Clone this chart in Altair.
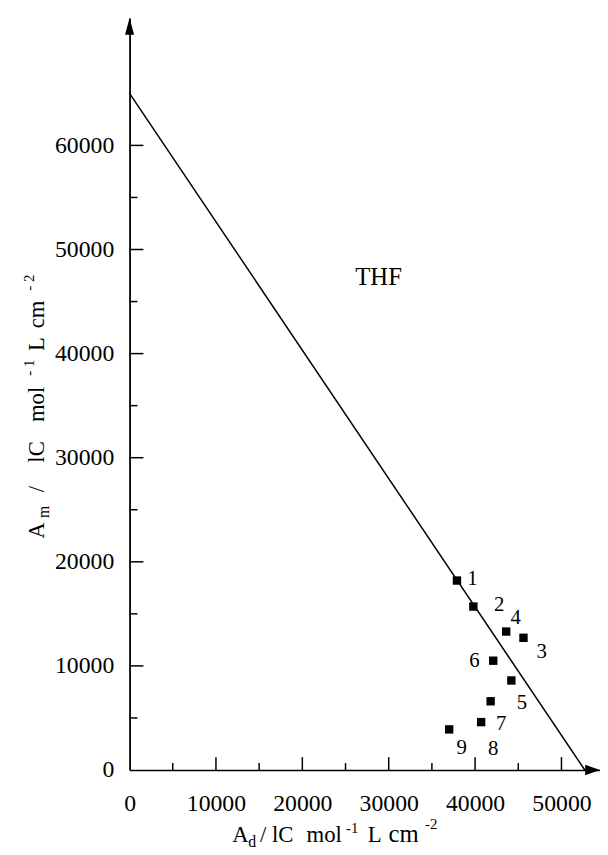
import altair as alt
import pandas as pd

# ---------------- data ----------------
point_id = ["1", "2", "3", "4", "5", "6", "7", "8", "9"]
a_d = [37900, 39800, 45600, 43600, 44200, 42100, 40700, 41800, 37000]
a_m = [18200, 15700, 12700, 13300, 8600, 10500, 4600, 6600, 3900]

label_text = ["1", "2", "3", "4", "5", "6", "7", "8", "9"]
label_x = [39700, 42790, 47700, 44700, 45420, 39930, 43010, 42100, 38440]
label_y = [18330, 15860, 11300, 14560, 6460, 10450, 4370, 1990, 2090]

line_x = [0, 52700]
line_y = [65000, 0]

x_tick_labels = [0, 10000, 20000, 30000, 40000, 50000]
y_tick_labels = [0, 10000, 20000, 30000, 40000, 50000, 60000]
x_major = [10000, 20000, 30000, 40000, 50000]
x_minor = [5000, 15000, 25000, 35000, 45000]
y_major = [10000, 20000, 30000, 40000, 50000, 60000]
y_minor = [5000, 15000, 25000, 35000, 45000, 55000]

X_MAX, Y_MAX = 54460, 72250
solvent_text = ["THF"]
solvent_x = [28830]
solvent_y = [47390]

# ---------------- layout ----------------
W, H = 476, 761
FONT = "Liberation Serif"

xs = alt.Scale(domain=[0, X_MAX], nice=False, zero=False)
ys = alt.Scale(domain=[0, Y_MAX], nice=False, zero=False)

axis_x = alt.Axis(values=x_tick_labels, format="d", title=None, ticks=False, grid=False,
                  domainColor="black", domainWidth=1.6, labelFont=FONT, labelFontSize=24,
                  labelColor="black", labelPadding=22, labelFlush=False, labelOverlap=False)
axis_y = alt.Axis(values=y_tick_labels, format="d", title=None, ticks=False, grid=False,
                  domainColor="black", domainWidth=1.8, labelFont=FONT, labelFontSize=24,
                  labelColor="black", labelPadding=16, labelFlush=False, labelOverlap=False)

pts = pd.DataFrame({"ad": a_d, "am": a_m, "id": point_id})
lab = pd.DataFrame({"ad": label_x, "am": label_y, "t": label_text})
line_df = pd.DataFrame({"ad": line_x, "am": line_y})
solv = pd.DataFrame({"ad": solvent_x, "am": solvent_y, "t": solvent_text})

points = alt.Chart(pts).mark_point(shape="square", filled=True, size=72, color="black", opacity=1).encode(
    x=alt.X("ad:Q", scale=xs, axis=axis_x),
    y=alt.Y("am:Q", scale=ys, axis=axis_y),
)

line = alt.Chart(line_df).mark_line(color="black", strokeWidth=1.5).encode(
    x=alt.X("ad:Q", scale=xs, axis=axis_x),
    y=alt.Y("am:Q", scale=ys, axis=axis_y),
)

labels = alt.Chart(lab).mark_text(font=FONT, fontSize=21, color="black", align="center", baseline="middle").encode(
    x=alt.X("ad:Q", scale=xs, axis=axis_x),
    y=alt.Y("am:Q", scale=ys, axis=axis_y),
    text="t:N",
)

solvent = alt.Chart(solv).mark_text(font=FONT, fontSize=25, color="black", align="center", baseline="middle").encode(
    x=alt.X("ad:Q", scale=xs, axis=axis_x),
    y=alt.Y("am:Q", scale=ys, axis=axis_y),
    text="t:N",
)


def xticks(vals, length):
    return alt.Chart(pd.DataFrame({"ad": vals})).mark_rule(color="black", strokeWidth=1.5).encode(
        x=alt.X("ad:Q", scale=xs, axis=axis_x),
        y=alt.value(H),
        y2=alt.value(H - length),
    )


def yticks(vals, length):
    return alt.Chart(pd.DataFrame({"am": vals})).mark_rule(color="black", strokeWidth=1.5).encode(
        y=alt.Y("am:Q", scale=ys, axis=axis_y),
        x=alt.value(0),
        x2=alt.value(length),
    )


arrow_up = alt.Chart(pd.DataFrame({"ad": [0], "am": [Y_MAX]})).mark_point(
    shape="M0,0L-0.27,1L0.27,1Z", filled=True, size=1156, color="black", opacity=1
).encode(x=alt.X("ad:Q", scale=xs, axis=axis_x), y=alt.Y("am:Q", scale=ys, axis=axis_y))

arrow_right = alt.Chart(pd.DataFrame({"ad": [X_MAX], "am": [0]})).mark_point(
    shape="M0,0L-1,-0.35L-1,0.35Z", filled=True, size=900, color="black", opacity=1
).encode(x=alt.X("ad:Q", scale=xs, axis=axis_x), y=alt.Y("am:Q", scale=ys, axis=axis_y))


def piece(text, px, py, size, angle=0):
    kw = dict(text=text, font=FONT, fontSize=size, color="black", align="left", baseline="alphabetic")
    if angle:
        kw["angle"] = angle
    return alt.Chart(alt.Data(values=[{}])).mark_text(**kw).encode(x=alt.value(px), y=alt.value(py))


XB = 834
x_title = [
    piece("A", 104, XB, 23),
    piece("d", 120, XB + 5, 16),
    piece("/", 132, XB, 23),
    piece("lC", 144, XB, 23),
    piece("mol", 179, XB, 23),
    piece("-1", 219, XB - 9, 15),
    piece("L", 241, XB, 23),
    piece("cm", 262, XB, 25),
    piece("-2", 299, XB - 13, 15),
]

y_title = [
    piece("A", -87, 527, 23, 270),
    piece("m", -82, 506, 16, 270),
    piece("/", -87, 480, 23, 270),
    piece("lC", -87, 450, 23, 270),
    piece("mol", -87, 409, 23, 270),
    piece("- 1", -97, 362, 15, 270),
    piece("L", -87, 337, 23, 270),
    piece("cm", -87, 314, 23, 270),
    piece("- 2", -97, 276, 15, 270),
]

chart = alt.layer(
    line, points, labels, solvent,
    xticks(x_major, 13), xticks(x_minor, 7),
    yticks(y_major, 14), yticks(y_minor, 8),
    arrow_up, arrow_right,
    *x_title, *y_title,
).properties(
    width=W, height=H,
    autosize=alt.AutoSizeParams(type="none"),
    padding={"left": 123, "top": 5, "right": 0, "bottom": 81},
).configure(background="white").configure_view(strokeWidth=0, stroke="transparent")

chart.save("out.html", embed_options={"renderer": "svg", "actions": False})
